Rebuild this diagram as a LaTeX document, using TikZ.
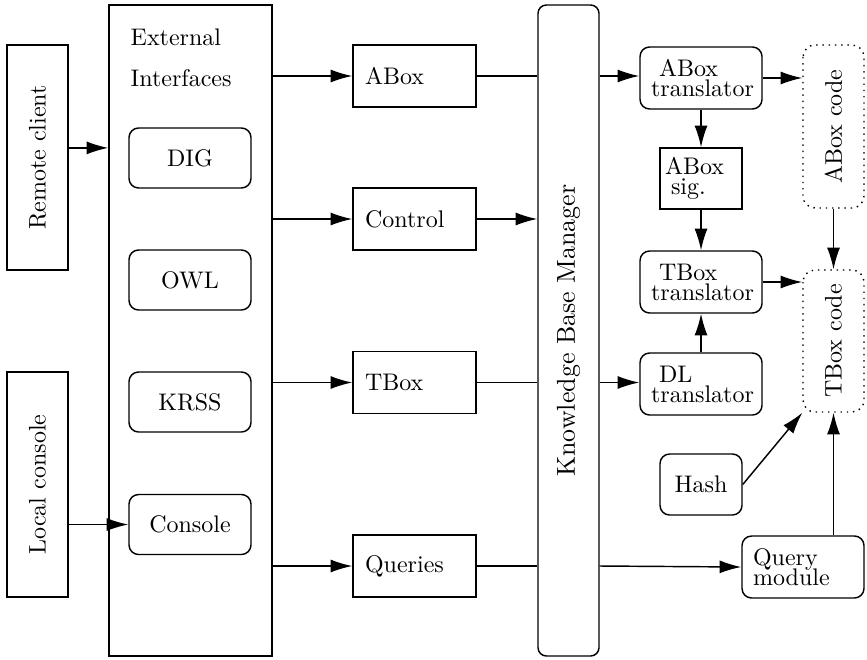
\documentclass[tikz,border=0pt]{standalone}
\usepackage{tikz}
\usetikzlibrary{arrows.meta,positioning}

% one unit of the drawing grid
\newlength{\pxu}
\setlength{\pxu}{0.41667pt}

\begin{document}
\begin{tikzpicture}[x=\pxu, y=-\pxu, line width=0.6pt, >={Latex[length=9pt,width=5.4pt]},
	sidebox/.style = {draw, rotate=90, inner sep=0pt, minimum width=225\pxu, minimum height=61\pxu},
	ifacebox/.style = {draw, rounded corners=4pt, inner sep=0pt, minimum width=122\pxu, minimum height=60\pxu},
	streambox/.style = {draw, inner xsep=12\pxu, inner ysep=0pt, text width=99\pxu, minimum height=62\pxu, align=left},
	transbox/.style = {draw, rounded corners=4pt, inner xsep=11\pxu, inner ysep=0pt, text width=100\pxu, minimum height=62\pxu, align=left},
	sigbox/.style = {draw, inner xsep=5\pxu, inner ysep=0pt, text width=72\pxu, minimum height=61\pxu, align=left},
	codebox/.style = {draw, dotted, rounded corners=5pt, rotate=90, inner sep=0pt, minimum height=61\pxu}]

	\useasboundingbox (0,0) rectangle (867,659);

	% clients
	\node (remote) [sidebox] at (37.5,157.5) {Remote client};
	\node (local) [sidebox] at (37.5,484.5) {Local console};

	% external interfaces
	\node (extif) [draw, inner sep=0pt, minimum width=163\pxu, minimum height=651\pxu] at (190.5,330.5) {};
	\node (extlbl) [anchor=base west, inner sep=0pt] at (130,46) {External};
	\node (intlbl) [anchor=base west, inner sep=0pt] at (130,87) {Interfaces};
	\node (dig) [ifacebox] at (190,158) {DIG};
	\node (owl) [ifacebox] at (190,280) {OWL};
	\node (krss) [ifacebox] at (190,402) {KRSS};
	\node (console) [ifacebox] at (190,524.5) {Console};

	% streams
	\node (abox) [streambox] at (414.5,76) {ABox};
	\node (control) [streambox] at (414.5,219) {Control};
	\node (tbox) [streambox] at (414.5,382.5) {TBox};
	\node (queries) [streambox] at (414.5,566) {Queries};

	\node (kbm) [draw, rounded corners=3.5pt, rotate=90, inner sep=0pt, minimum width=651\pxu, minimum height=61\pxu,
		font=\fontsize{10.8pt}{13pt}\selectfont] at (568.5,330.5) {Knowledge Base Manager};

	% translators
	\node (abtr) [transbox] at (701,78) {\ ABox\\[-3.7pt]translator};
	\node (absig) [sigbox] at (701,178.5) {ABox\\[-3.7pt]\hspace*{2.5pt}sig.};
	\node (tbtr) [transbox] at (701,282) {\ TBox\\[-3.7pt]translator};
	\node (dltr) [transbox] at (701,384) {\ DL\\[-3.7pt]translator};
	\node (hash) [draw, rounded corners=4pt, inner sep=0pt, minimum width=82\pxu, minimum height=61\pxu] at (701,484.5) {Hash};
	\node (qmod) [transbox] at (803,567) {Query\\[-3.7pt]module};

	\node (abcode) [codebox, minimum width=163\pxu] at (833.5,126.5) {ABox code};
	\node (tbcode) [codebox, minimum width=142\pxu] at (833.5,341) {TBox code};

	% connectors
	\coordinate (rc) at ([yshift=4pt]remote.south);
	\draw[->] (rc) -- (rc -| extif.west);
	\draw[->] (local.south |- console.west) -- (console.west);

	\foreach \s in {abox, control, tbox, queries}
		\draw[->] (extif.east |- \s.west) -- (\s.west);

	\draw (abox.east) -- (abox.east -| kbm.north);
	\draw[->] (control.east) -- (control.east -| kbm.north);
	\draw (tbox.east) -- (tbox.east -| kbm.north);
	\draw (queries.east) -- (queries.east -| kbm.north);

	\draw[->] (kbm.south |- abox.east) -- (abtr.west |- abox.east);
	\draw[->] (kbm.south |- tbox.east) -- (dltr.west |- tbox.east);
	\draw[->] (kbm.south |- queries.east) -- (qmod.west);

	\draw[->] (abtr.east) -- (abtr.east -| abcode.north);
	\draw[->] (tbtr.east) -- (tbtr.east -| tbcode.north);
	\draw[->] (abtr.south) -- (absig.north);
	\draw[->] (absig.south) -- (tbtr.north);
	\draw[->] (dltr.north) -- (tbtr.south);
	\draw[->] (abcode.west) -- (tbcode.east);
	\draw[->] (hash.east) -- (tbcode.north west);
	\draw[->] (tbcode.west |- qmod.north) -- (tbcode.west);
\end{tikzpicture}
\end{document}
